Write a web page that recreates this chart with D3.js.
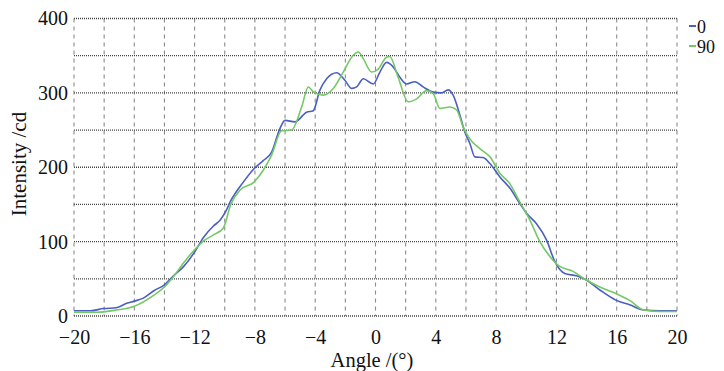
<!DOCTYPE html>
<html><head><meta charset="utf-8">
<script src="https://cdn.jsdelivr.net/npm/d3@7"></script>
</head><body style="margin:0;background:#fff">
<svg id="c" width="724" height="371" font-family="Liberation Serif" style="display:block;font-family:'Liberation Serif'"></svg>
<script>
const xTicks = [-20,-16,-12,-8,-4,0,4,8,12,16,20];
const yTicks = [0,100,200,300,400];
const seriesNames = ["0","90"];
const seriesColors = ["#4b5fc2","#74c866"];
const angle0 = [-20,-18.9,-18.05,-17.2,-16.5,-16,-15.4,-14.7,-14,-13.4,-12.75,-12,-11.4,-10.75,-10.3,-9.9,-9.6,-8.77,-8.06,-7.45,-6.9,-6.34,-6,-5.35,-4.57,-4.13,-3.7,-3.24,-2.58,-2.03,-1.58,-1.25,-0.81,-0.15,0.29,0.73,1.17,1.62,2.06,2.61,3.16,3.83,4.38,4.82,5.15,5.6,5.93,6.26,6.59,7.14,7.59,8.25,8.91,9.58,10.02,10.68,11.35,11.9,12.56,13.34,13.93,14.88,15.98,16.86,17.8,18.87,20];
const value0 = [7,7,10,11,17,20,24,34,42,54,66,86,106,121,129,142,155,180,198,209,220,252,263,261,274,276,303,319,327,317,306,308,319,312,328,341,335,321,312,315,308,301,300,304,297,270,247,232,214,213,205,187,172,151,138,124,102,73,57,54,49,35,21,15,8,7,7];
const angle90 = [-20,-18.5,-17.2,-16,-14.7,-14,-13.4,-12.75,-12,-11.4,-10.75,-10.1,-9.6,-9.0,-8.06,-7.45,-6.9,-6.23,-5.57,-4.9,-4.46,-4.1,-3.47,-2.8,-2.14,-1.58,-1.14,-0.81,-0.26,0.18,0.73,0.95,1.5,2.17,2.73,3.39,3.83,4.27,4.93,5.38,5.82,6.26,6.92,7.59,8.25,8.91,9.58,10.24,10.9,11.57,12.12,13.11,13.93,14.88,15.98,16.86,17.8,18.87,20];
const value90 = [5,5,8,13,28,39,53,71,89,101,109,118,150,169,180,196,216,249,250,281,308,301,297,306,328,348,355,346,328,332,348,349,321,288,292,303,299,279,281,277,254,238,225,214,192,178,153,129,100,80,68,60,49,39,30,21,8,6,6];

const svg = d3.select("#c");
const L=74, R=677, T=18.5, B=316;
const x = d3.scaleLinear().domain([-20,20]).range([L,R]);
const y = d3.scaleLinear().domain([0,400]).range([B,T]);

function txt(sel, size){
  sel.attr("font-family","Liberation Serif").attr("font-size",size)
     .style("font-family",'"Liberation Serif"').style("font-size",size+"px").attr("fill","#111");
}

// grid
const g = svg.append("g");
g.selectAll("line.v").data(d3.range(-20,21,2)).join("line")
  .attr("x1",d=>x(d)).attr("x2",d=>x(d)).attr("y1",y(400)).attr("y2",y(0))
  .attr("stroke","#8a8a8a").attr("stroke-width",1.1).attr("stroke-dasharray","4,4");
g.selectAll("line.h").data(d3.range(0,401,50)).join("line")
  .attr("x1",x(-20)).attr("x2",x(20)).attr("y1",d=>y(d)).attr("y2",d=>y(d))
  .attr("stroke","#444").attr("stroke-width",1.3).attr("stroke-dasharray","1,1");

// lines
const line = d3.line().x(d=>x(d[0])).y(d=>y(d[1])).curve(d3.curveMonotoneX);
const data = [d3.zip(angle0,value0), d3.zip(angle90,value90)];
svg.selectAll("path.s").data(data).join("path")
  .attr("fill","none").attr("stroke",(d,i)=>seriesColors[i]).attr("stroke-width",1.6)
  .attr("d",line);

// axes
const fmt = d => d<0 ? "\u2212"+Math.abs(d) : String(d);
const ax = svg.append("g").attr("transform",`translate(0,${B})`)
  .call(d3.axisBottom(x).tickValues(xTicks).tickSize(0).tickPadding(14).tickFormat(fmt));
ax.attr("font-family","Liberation Serif").attr("font-size",20);
ax.select(".domain").remove();
txt(ax.selectAll("text"),20);
const ay = svg.append("g").attr("transform",`translate(${L},0)`)
  .call(d3.axisLeft(y).tickValues(yTicks).tickSize(0).tickPadding(6).tickFormat(fmt));
ay.attr("font-family","Liberation Serif").attr("font-size",20);
ay.select(".domain").remove();
txt(ay.selectAll("text"),20);

txt(svg.append("text").attr("x",372).attr("y",366.5).attr("text-anchor","middle").text("Angle /(°)"),20.5);
txt(svg.append("text").attr("transform","translate(26,164) rotate(-90)").attr("text-anchor","middle").text("Intensity /cd"),21);

// legend
const lg = svg.append("g");
seriesNames.forEach((n,i)=>{
  const yy = 26 + i*20;
  lg.append("line").attr("x1",689).attr("x2",696).attr("y1",yy).attr("y2",yy).attr("stroke",seriesColors[i]).attr("stroke-width",2);
  txt(lg.append("text").attr("x",697).attr("y",yy+6.5).text(n),18);
});
</script></body></html>
